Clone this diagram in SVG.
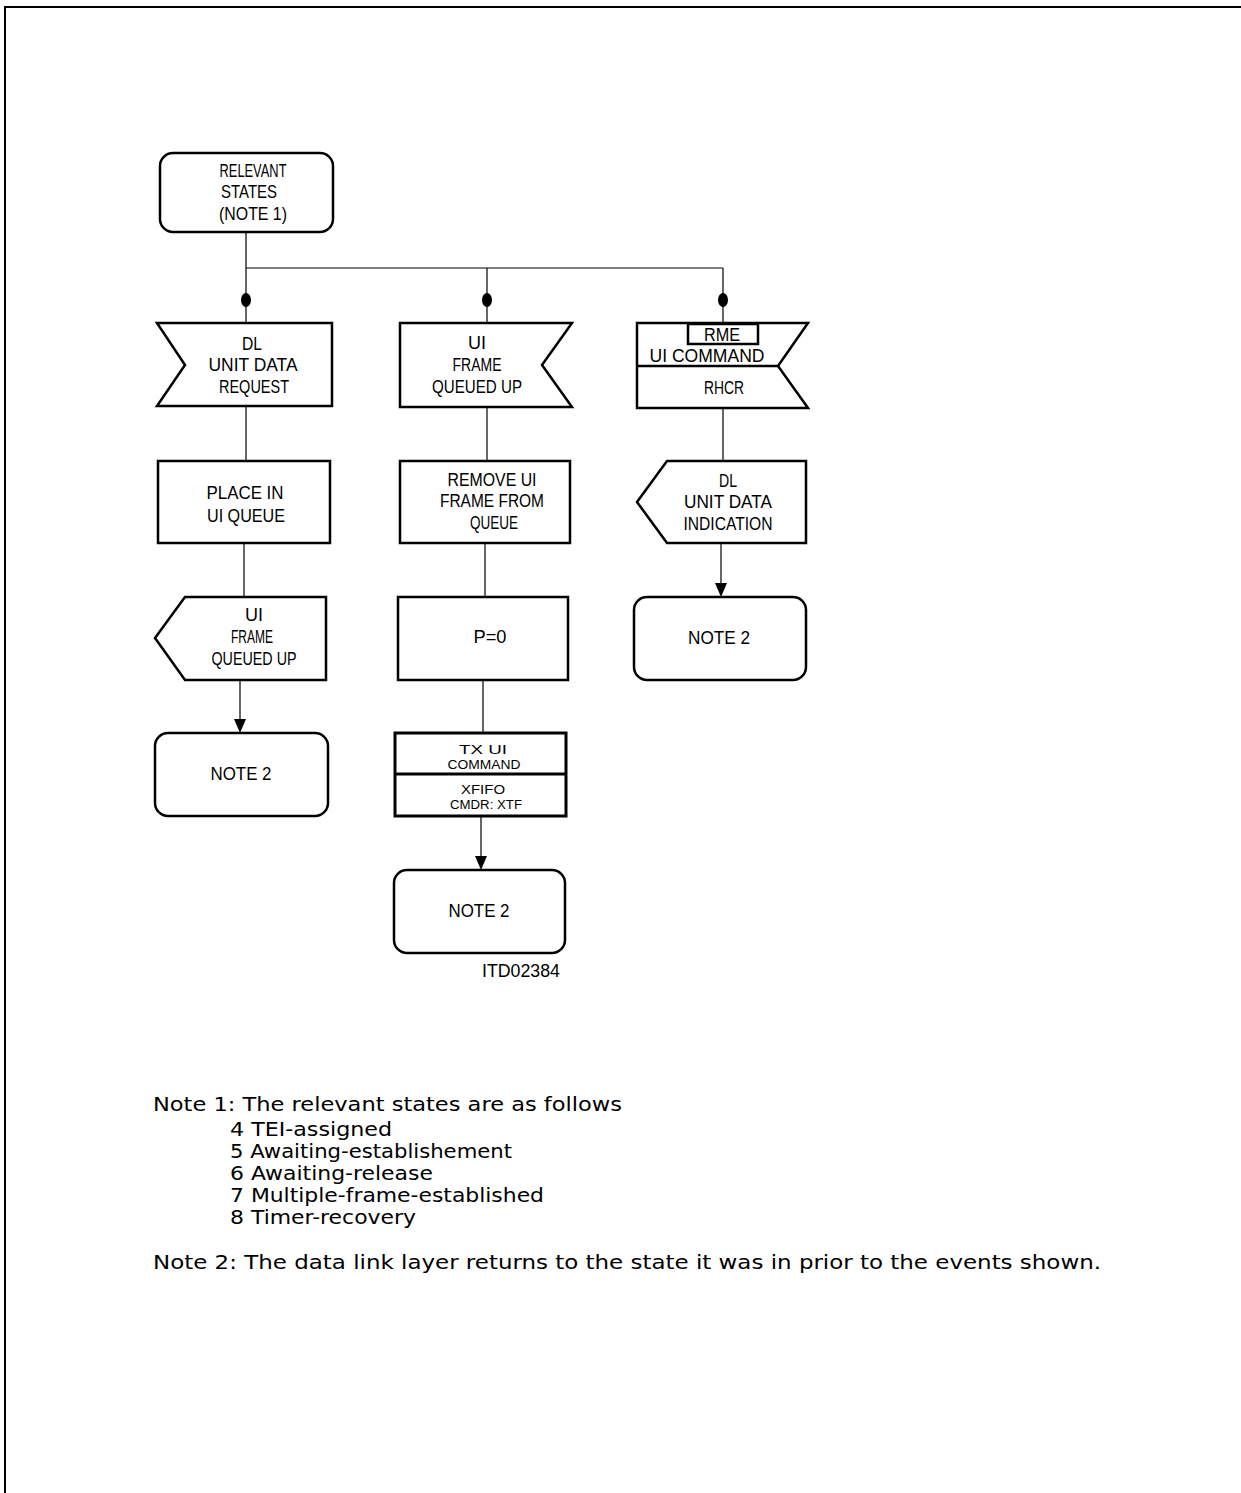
<svg xmlns="http://www.w3.org/2000/svg" width="1241" height="1493" viewBox="0 0 1241 1493">
<defs>
<style>
.s{fill:#fff;stroke:#000;stroke-width:2.5;stroke-linejoin:miter}
.c{fill:none;stroke:#000;stroke-width:1.2}
.t{font-family:"Liberation Sans",Arial,sans-serif;font-size:18px;fill:#000;text-anchor:middle}
.n{font-family:"DejaVu Sans","Liberation Sans",sans-serif;font-size:20px;fill:#000}
</style>
</defs>
<rect width="1241" height="1493" fill="#fff"/>
<path d="M5,1493 V7 H1241" fill="none" stroke="#000" stroke-width="2"/>

<g id="connectors">
<path class="c" d="M246,232 V268 H723"/>
<path class="c" d="M246,268 V323"/>
<path class="c" d="M487,268 V323"/>
<path class="c" d="M723,268 V323"/>
<ellipse cx="246" cy="300" rx="5" ry="7"/>
<ellipse cx="487" cy="300" rx="5" ry="7"/>
<ellipse cx="723" cy="300" rx="5" ry="7"/>
<path class="c" d="M246,406 V461"/>
<path class="c" d="M244,543 V597"/>
<path class="c" d="M240,680 V719"/>
<path d="M234,719 L246,719 L240,733 Z"/>
<path class="c" d="M487,407 V461"/>
<path class="c" d="M485,543 V597"/>
<path class="c" d="M483,680 V733"/>
<path class="c" d="M481,816 V856"/>
<path d="M475,856 L487,856 L481,870 Z"/>
<path class="c" d="M723,408 V461"/>
<path class="c" d="M721,543 V583"/>
<path d="M715,583 L727,583 L721,597 Z"/>
</g>

<g id="start">
<rect class="s" x="160" y="153" width="173" height="79" rx="13"/>
<text class="t" x="253" y="177" textLength="67" lengthAdjust="spacingAndGlyphs">RELEVANT</text>
<text class="t" x="249" y="198" textLength="56" lengthAdjust="spacingAndGlyphs">STATES</text>
<text class="t" x="253" y="220" textLength="68" lengthAdjust="spacingAndGlyphs">(NOTE 1)</text>
</g>

<g id="dl-unit-data-request">
<path class="s" d="M157,323 H332 V406 H157 L185,365 Z"/>
<text class="t" x="252" y="350" textLength="20" lengthAdjust="spacingAndGlyphs">DL</text>
<text class="t" x="253" y="371" textLength="89" lengthAdjust="spacingAndGlyphs">UNIT DATA</text>
<text class="t" x="254" y="393" textLength="70" lengthAdjust="spacingAndGlyphs">REQUEST</text>
</g>

<g id="place-in-queue">
<rect class="s" x="158" y="461" width="172" height="82"/>
<text class="t" x="245" y="499" textLength="77" lengthAdjust="spacingAndGlyphs">PLACE IN</text>
<text class="t" x="246" y="522" textLength="78" lengthAdjust="spacingAndGlyphs">UI QUEUE</text>
</g>

<g id="ui-frame-queued-up-out">
<path class="s" d="M185,597 H326 V680 H185 L155,638 Z"/>
<text class="t" x="254" y="621">UI</text>
<text class="t" x="252" y="643" textLength="42" lengthAdjust="spacingAndGlyphs">FRAME</text>
<text class="t" x="254" y="665" textLength="85" lengthAdjust="spacingAndGlyphs">QUEUED UP</text>
</g>

<g id="note2-a">
<rect class="s" x="155" y="733" width="173" height="83" rx="13"/>
<text class="t" x="241" y="780" textLength="61" lengthAdjust="spacingAndGlyphs">NOTE 2</text>
</g>

<g id="ui-frame-queued-up-in">
<path class="s" d="M400,323 H572 L542,365 L572,407 H400 Z"/>
<text class="t" x="477" y="349">UI</text>
<text class="t" x="477" y="371" textLength="49" lengthAdjust="spacingAndGlyphs">FRAME</text>
<text class="t" x="477" y="393" textLength="90" lengthAdjust="spacingAndGlyphs">QUEUED UP</text>
</g>

<g id="remove-ui-frame">
<rect class="s" x="400" y="461" width="170" height="82"/>
<text class="t" x="492" y="486" textLength="89" lengthAdjust="spacingAndGlyphs">REMOVE UI</text>
<text class="t" x="492" y="507" textLength="104" lengthAdjust="spacingAndGlyphs">FRAME FROM</text>
<text class="t" x="494" y="529" textLength="48" lengthAdjust="spacingAndGlyphs">QUEUE</text>
</g>

<g id="p-zero">
<rect class="s" x="398" y="597" width="170" height="83"/>
<text class="t" x="490" y="643" textLength="33" lengthAdjust="spacingAndGlyphs">P=0</text>
</g>

<g id="tx-ui-command">
<rect x="395" y="733" width="171" height="83" fill="#fff" stroke="#000" stroke-width="3"/>
<line x1="395" y1="774" x2="566" y2="774" stroke="#000" stroke-width="3"/>
<text class="t" transform="translate(483,754) scale(1,0.75)" textLength="48" lengthAdjust="spacingAndGlyphs">TX UI</text>
<text class="t" transform="translate(484,769) scale(1,0.75)" textLength="73" lengthAdjust="spacingAndGlyphs">COMMAND</text>
<text class="t" transform="translate(483,794) scale(1,0.75)" textLength="44" lengthAdjust="spacingAndGlyphs">XFIFO</text>
<text class="t" transform="translate(486,809) scale(1,0.75)" textLength="72" lengthAdjust="spacingAndGlyphs">CMDR: XTF</text>
</g>

<g id="note2-b">
<rect class="s" x="394" y="870" width="171" height="83" rx="13"/>
<text class="t" x="479" y="917" textLength="61" lengthAdjust="spacingAndGlyphs">NOTE 2</text>
</g>

<text class="t" x="521" y="977" textLength="78" lengthAdjust="spacingAndGlyphs">ITD02384</text>

<g id="rme-ui-command">
<path class="s" d="M637,323 H808 L778,366 L808,408 H637 Z"/>
<line x1="637" y1="366" x2="778" y2="366" stroke="#000" stroke-width="2.5"/>
<rect x="688" y="324" width="70" height="20" fill="none" stroke="#000" stroke-width="2.5"/>
<text class="t" x="722" y="341" textLength="36" lengthAdjust="spacingAndGlyphs">RME</text>
<text class="t" x="707" y="362" textLength="115" lengthAdjust="spacingAndGlyphs">UI COMMAND</text>
<text class="t" x="724" y="394" textLength="40" lengthAdjust="spacingAndGlyphs">RHCR</text>
</g>

<g id="dl-unit-data-indication">
<path class="s" d="M667,461 H806 V543 H667 L637,502 Z"/>
<text class="t" x="728" y="487" textLength="18" lengthAdjust="spacingAndGlyphs">DL</text>
<text class="t" x="728" y="508" textLength="88" lengthAdjust="spacingAndGlyphs">UNIT DATA</text>
<text class="t" x="728" y="530" textLength="89" lengthAdjust="spacingAndGlyphs">INDICATION</text>
</g>

<g id="note2-c">
<rect class="s" x="634" y="597" width="172" height="83" rx="13"/>
<text class="t" x="719" y="644" textLength="62" lengthAdjust="spacingAndGlyphs">NOTE 2</text>
</g>

<g id="notes">
<text class="n" x="153" y="1111" textLength="469" lengthAdjust="spacingAndGlyphs">Note 1: The relevant states are as follows</text>
<text class="n" x="230" y="1136" textLength="162" lengthAdjust="spacingAndGlyphs">4 TEI-assigned</text>
<text class="n" x="230" y="1158" textLength="282" lengthAdjust="spacingAndGlyphs">5 Awaiting-establishement</text>
<text class="n" x="230" y="1180" textLength="203" lengthAdjust="spacingAndGlyphs">6 Awaiting-release</text>
<text class="n" x="230" y="1202" textLength="314" lengthAdjust="spacingAndGlyphs">7 Multiple-frame-established</text>
<text class="n" x="230" y="1224" textLength="186" lengthAdjust="spacingAndGlyphs">8 Timer-recovery</text>
<text class="n" x="153" y="1269" textLength="948" lengthAdjust="spacingAndGlyphs">Note 2: The data link layer returns to the state it was in prior to the events shown.</text>
</g>
</svg>
